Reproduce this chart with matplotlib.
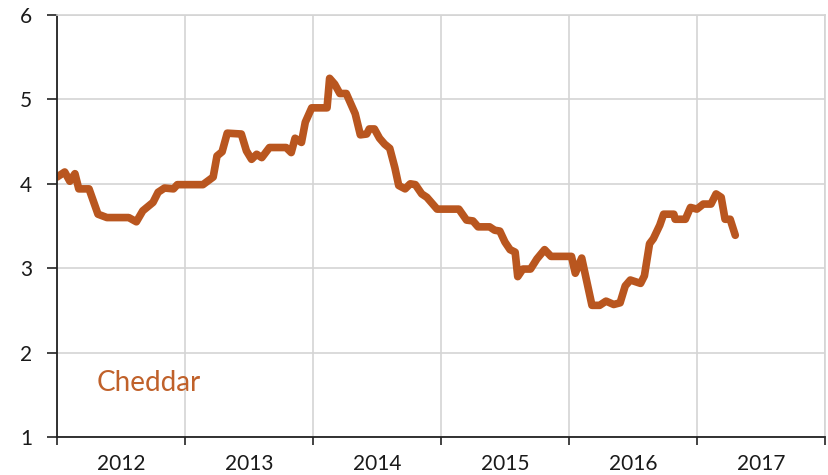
import numpy as np
import matplotlib
matplotlib.use("Agg")
import matplotlib.pyplot as plt

# decimal year of each turning point
years = [
    2012.00, 2012.06, 2012.10, 2012.14, 2012.17, 2012.25, 2012.32, 2012.39,
    2012.56, 2012.62, 2012.67, 2012.75, 2012.79, 2012.84, 2012.91, 2012.94,
    2013.14, 2013.22, 2013.25, 2013.29, 2013.33, 2013.44, 2013.48, 2013.52,
    2013.56, 2013.60, 2013.66, 2013.79, 2013.83, 2013.86, 2013.91, 2013.94,
    2013.99, 2014.11, 2014.13, 2014.17, 2014.21, 2014.26, 2014.33, 2014.37,
    2014.42, 2014.44, 2014.48, 2014.52, 2014.56, 2014.60, 2014.64, 2014.67,
    2014.72, 2014.76, 2014.80, 2014.85, 2014.89, 2014.97, 2015.14, 2015.20,
    2015.25, 2015.29, 2015.38, 2015.42, 2015.46, 2015.50, 2015.54, 2015.58,
    2015.60, 2015.64, 2015.70, 2015.75, 2015.81, 2015.86, 2016.02, 2016.05,
    2016.10, 2016.18, 2016.24, 2016.29, 2016.35, 2016.40, 2016.44, 2016.48,
    2016.56, 2016.59, 2016.63, 2016.66, 2016.71, 2016.74, 2016.82, 2016.83,
    2016.91, 2016.95, 2017.00, 2017.05, 2017.11, 2017.15, 2017.19, 2017.22,
    2017.26, 2017.30,
]
cheddar = [
    4.08, 4.14, 4.03, 4.12, 3.94, 3.94, 3.64, 3.60,
    3.60, 3.55, 3.68, 3.78, 3.90, 3.95, 3.94, 3.99,
    3.99, 4.08, 4.33, 4.38, 4.60, 4.59, 4.39, 4.29,
    4.35, 4.31, 4.43, 4.43, 4.37, 4.54, 4.49, 4.73,
    4.90, 4.90, 5.25, 5.18, 5.07, 5.07, 4.83, 4.58,
    4.59, 4.65, 4.65, 4.54, 4.47, 4.42, 4.19, 3.98,
    3.94, 4.00, 3.99, 3.88, 3.84, 3.70, 3.70, 3.57,
    3.56, 3.49, 3.49, 3.45, 3.44, 3.31, 3.22, 3.19,
    2.90, 2.99, 2.99, 3.11, 3.22, 3.14, 3.14, 2.94,
    3.12, 2.56, 2.56, 2.61, 2.57, 2.59, 2.79, 2.86,
    2.82, 2.91, 3.29, 3.35, 3.51, 3.64, 3.64, 3.58,
    3.58, 3.72, 3.70, 3.76, 3.76, 3.88, 3.84, 3.58,
    3.58, 3.39,
]
year_labels = ["2012", "2013", "2014", "2015", "2016", "2017"]
y_ticks = [1, 2, 3, 4, 5, 6]

line_color = "#B9561F"
grid_color = "#D4D4D4"

plt.rcParams["font.family"] = ["Lato", "DejaVu Sans"]

fig = plt.figure(figsize=(8.29, 4.75), dpi=100)
ax = fig.add_axes([0.0688, 0.08, 0.9262, 0.8884])

ax.plot(years, cheddar, color=line_color, lw=5.5, solid_joinstyle="round",
        solid_capstyle="round")

ax.set_xlim(2012, 2018)
ax.set_ylim(1, 6)

ax.set_xticks(range(2012, 2019))
ax.set_xticklabels([])
ax.set_xticks([y + 0.5 for y in range(2012, 2018)], minor=True)
ax.set_xticklabels(year_labels, minor=True)
ax.tick_params(axis="x", which="major", direction="out", length=6, width=1.2,
               color="#222222")
ax.tick_params(axis="x", which="minor", length=0, pad=12, labelsize=15,
               labelcolor="#1a1a1a")

ax.set_yticks(y_ticks)
ax.set_yticklabels([str(v) for v in y_ticks])
ax.tick_params(axis="y", direction="out", length=7, width=1.2, pad=11,
               labelsize=15, labelcolor="#1a1a1a", color="#222222")

ax.grid(True, which="major", color=grid_color, lw=1.2)
ax.set_axisbelow(True)

for side in ["left", "bottom"]:
    ax.spines[side].set_color("#222222")
    ax.spines[side].set_linewidth(1.3)
for side in ["top", "right"]:
    ax.spines[side].set_color(grid_color)
    ax.spines[side].set_linewidth(1.2)

ax.text(2012.31, 1.55, "Cheddar", color="#C0612A", fontsize=20,
        ha="left", va="baseline")

fig.savefig("out.png", dpi=100)
